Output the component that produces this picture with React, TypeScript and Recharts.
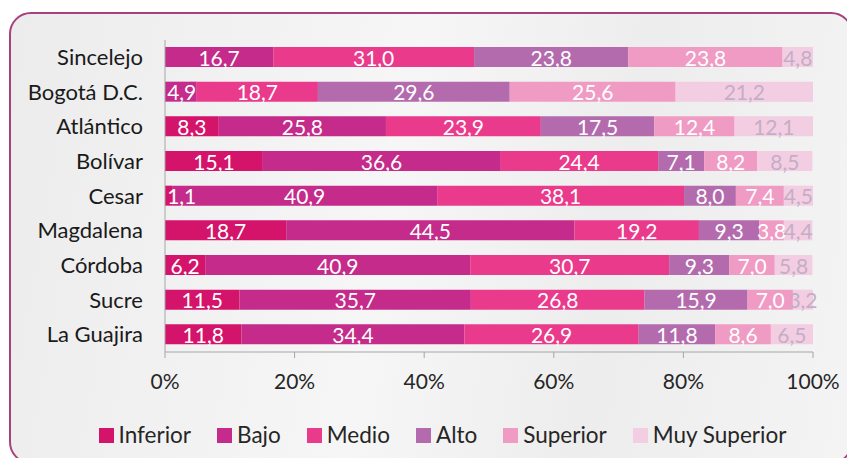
import { BarChart, Bar, XAxis, YAxis, Legend, LabelList } from "recharts";

const departamentos = ["Sincelejo", "Bogotá D.C.", "Atlántico", "Bolívar", "Cesar", "Magdalena", "Córdoba", "Sucre", "La Guajira"];
const inferior = [0, 0, 8.3, 15.1, 1.1, 18.7, 6.2, 11.5, 11.8];
const bajo = [16.7, 4.9, 25.8, 36.6, 40.9, 44.5, 40.9, 35.7, 34.4];
const medio = [31.0, 18.7, 23.9, 24.4, 38.1, 19.2, 30.7, 26.8, 26.9];
const alto = [23.8, 29.6, 17.5, 7.1, 8.0, 9.3, 9.3, 15.9, 11.8];
const superior = [23.8, 25.6, 12.4, 8.2, 7.4, 3.8, 7.0, 7.0, 8.6];
const muySuperior = [4.8, 21.2, 12.1, 8.5, 4.5, 4.4, 5.8, 3.2, 6.5];
const xTicks = [0, 20, 40, 60, 80, 100];

const series = [
  { key: "inferior", name: "Inferior", values: inferior, color: "#d4136b", text: "#ffffff" },
  { key: "bajo", name: "Bajo", values: bajo, color: "#c42b8a", text: "#ffffff" },
  { key: "medio", name: "Medio", values: medio, color: "#ea3a8c", text: "#ffffff" },
  { key: "alto", name: "Alto", values: alto, color: "#b36bad", text: "#ffffff" },
  { key: "superior", name: "Superior", values: superior, color: "#f09bc4", text: "#ffffff" },
  { key: "muySuperior", name: "Muy Superior", values: muySuperior, color: "#f3cde2", text: "#c4aec6" },
];

const data = departamentos.map((d, i) => {
  const row: Record<string, string | number> = { name: d };
  series.forEach((s) => {
    row[s.key] = s.values[i];
  });
  return row;
});

const fmt = (v: any) => (v ? Number(v).toFixed(1).replace(".", ",") : "");

const font = "Lato, 'Open Sans', sans-serif";
const PLOT_LEFT = 165;
const LABEL_SIZE = 21;

// centered value label, pushed right if it would spill over the y axis
const makeLabel = (fill: string) => (props: any) => {
  const { x, y, width, height, value } = props;
  const txt = fmt(value);
  if (!txt) return null;
  const w = txt.length * LABEL_SIZE * 0.5;
  let cx = x + width / 2;
  if (cx - w / 2 < PLOT_LEFT + 1) cx = PLOT_LEFT + 1 + w / 2;
  return (
    <text
      x={cx}
      y={y + height / 2}
      fill={fill}
      textAnchor="middle"
      dominantBaseline="central"
      style={{ fontSize: LABEL_SIZE, fontFamily: font }}
    >
      {txt}
    </text>
  );
};

// keep legend in series order (recharts sorts it by name otherwise)
const renderLegend = (props: any) => {
  const items = [...(props.payload || [])].sort(
    (a: any, b: any) =>
      series.findIndex((s) => s.name === a.value) - series.findIndex((s) => s.name === b.value)
  );
  return (
    <div style={{ display: "flex", justifyContent: "center", alignItems: "center", gap: 26, paddingLeft: 72 }}>
      {items.map((it: any) => (
        <div key={it.value} style={{ display: "flex", alignItems: "center" }}>
          <span style={{ width: 15, height: 15, background: it.color, display: "inline-block", marginRight: 5 }} />
          <span style={{ fontSize: 22.5, color: "#262626", fontFamily: font, lineHeight: "30px" }}>{it.value}</span>
        </div>
      ))}
    </div>
  );
};

export default function App() {
  return (
    <div style={{ position: "relative", width: 855, height: 466, margin: -8, fontFamily: font }}>
      <div
        style={{
          position: "absolute",
          left: 9,
          top: 12,
          width: 840,
          height: 448,
          border: "2px solid #a8407e",
          borderRadius: 22,
          background: "linear-gradient(100deg, #ececec 0%, #f6f6f6 45%, #ededed 70%, #f4f4f4 100%)",
        }}
      />
      <div style={{ position: "absolute", left: 0, top: 0 }}>
        <BarChart
          width={855}
          height={466}
          data={data}
          layout="vertical"
          barSize={20}
          margin={{ top: 40, right: 42, left: 0, bottom: 16 }}
        >
          <XAxis
            type="number"
            domain={[0, 100]}
            ticks={xTicks}
            allowDataOverflow
            tickFormatter={(v) => `${v}%`}
            stroke="#a6a6a6"
            tickSize={6}
            tickMargin={16}
            height={68}
            tick={{ fill: "#262626", fontSize: 21, fontFamily: font }}
          />
          <YAxis
            type="category"
            dataKey="name"
            width={165}
            stroke="#a6a6a6"
            tickLine={false}
            tickMargin={16}
            tick={{ fill: "#1a1a1a", fontSize: 22, fontFamily: font }}
          />
          <YAxis
            yAxisId="bounds"
            type="number"
            domain={[0, 9]}
            ticks={[0, 1, 2, 3, 4, 5, 6, 7, 8, 9]}
            width={0}
            tick={false}
            axisLine={false}
            tickSize={6}
            stroke="#a6a6a6"
          />
          <Legend verticalAlign="bottom" height={30} content={renderLegend} />
          {series.map((s) => (
            <Bar key={s.key} dataKey={s.key} name={s.name} stackId="a" fill={s.color} isAnimationActive={false}>
              <LabelList dataKey={s.key} content={makeLabel(s.text)} />
            </Bar>
          ))}
        </BarChart>
      </div>
    </div>
  );
}
